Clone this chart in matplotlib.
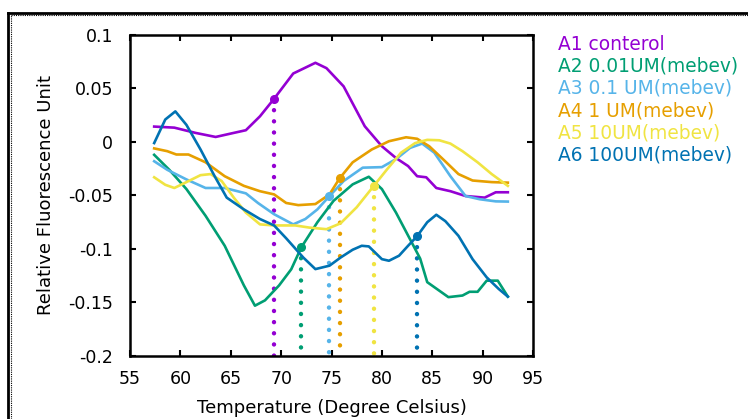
import matplotlib
matplotlib.use("Agg")
import matplotlib.pyplot as plt
from matplotlib.lines import Line2D

# temperature / fluorescence readings per well
a1_t = [57.4, 59.4, 61.5, 63.5, 65.3, 66.5, 67.9, 69.3, 71.2, 73.4, 74.5, 76.2, 78.3,
        80.0, 81.4, 82.6, 83.5, 84.4, 85.4, 86.8, 88.3, 90.2, 91.3, 92.5]
a1_y = [0.0144, 0.0134, 0.0085, 0.0047, 0.0085, 0.011, 0.024, 0.0404, 0.064, 0.074,
        0.069, 0.052, 0.0147, -0.004, -0.015, -0.0225, -0.032, -0.033, -0.043, -0.046,
        -0.0505, -0.052, -0.047, -0.047]

a2_t = [57.4, 58.9, 60.6, 62.5, 64.4, 66.3, 67.4, 68.4, 69.8, 71.0, 72.0, 73.6, 75.2,
        77.1, 78.7, 80.0, 81.4, 82.8, 83.8, 84.5, 85.4, 86.6, 88.0, 88.7, 89.5, 90.4,
        91.5, 92.5]
a2_y = [-0.012, -0.026, -0.044, -0.069, -0.097, -0.134, -0.153, -0.148, -0.134, -0.119,
        -0.0985, -0.075, -0.055, -0.0396, -0.0325, -0.044, -0.066, -0.091, -0.109,
        -0.131, -0.137, -0.145, -0.1435, -0.140, -0.140, -0.1296, -0.1296, -0.1445]

a3_t = [57.4, 58.7, 60.6, 62.5, 64.4, 66.5, 67.7, 69.3, 71.2, 72.4, 73.6, 74.8, 76.2,
        78.1, 80.0, 81.4, 82.8, 84.0, 85.2, 86.8, 88.3, 89.7, 91.3, 92.5]
a3_y = [-0.018, -0.026, -0.035, -0.043, -0.043, -0.048, -0.057, -0.0675, -0.077, -0.072,
        -0.063, -0.0505, -0.0365, -0.024, -0.0235, -0.016, -0.0055, -0.0015, -0.010,
        -0.032, -0.0505, -0.0535, -0.0555, -0.0557]

a4_t = [57.4, 58.7, 59.6, 60.8, 62.5, 64.4, 66.3, 67.9, 69.3, 70.5, 71.7, 73.4, 74.8,
        75.8, 77.1, 79.0, 80.7, 82.4, 83.5, 84.7, 86.1, 87.6, 89.0, 90.9, 92.5]
a4_y = [-0.006, -0.0086, -0.0117, -0.0117, -0.019, -0.032, -0.041, -0.046, -0.049,
        -0.057, -0.059, -0.058, -0.049, -0.034, -0.019, -0.007, 0.0007, 0.0044, 0.003,
        -0.004, -0.0164, -0.030, -0.036, -0.0375, -0.038]

a5_t = [57.4, 58.5, 59.4, 60.6, 62.0, 63.0, 64.1, 65.3, 66.5, 67.9, 69.3, 71.4, 72.8,
        74.5, 75.9, 77.5, 79.2, 80.5, 81.9, 83.3, 84.5, 85.7, 86.8, 88.0, 89.5, 90.9, 92.5]
a5_y = [-0.033, -0.040, -0.043, -0.0375, -0.031, -0.030, -0.0365, -0.052, -0.066,
        -0.077, -0.078, -0.078, -0.080, -0.0815, -0.076, -0.061, -0.041, -0.0257,
        -0.010, -0.001, 0.002, 0.0016, -0.0015, -0.0086, -0.019, -0.030, -0.041]

a6_t = [57.4, 58.5, 59.5, 60.6, 62.0, 63.4, 64.6, 66.3, 67.9, 69.3, 70.5, 72.2, 73.4,
        74.8, 75.9, 77.1, 78.0, 78.7, 80.0, 80.7, 81.7, 82.6, 83.5, 84.5, 85.4, 86.3,
        87.6, 89.0, 90.4, 91.6, 92.5]
a6_y = [-0.001, 0.021, 0.0286, 0.016, -0.007, -0.032, -0.052, -0.063, -0.072, -0.078,
        -0.090, -0.108, -0.1188, -0.1156, -0.108, -0.1007, -0.097, -0.0976, -0.1095,
        -0.111, -0.1063, -0.097, -0.088, -0.075, -0.068, -0.074, -0.0877, -0.1095,
        -0.1265, -0.1374, -0.1445]

labels = ["A1 conterol", "A2 0.01UM(mebev)", "A3 0.1 UM(mebev)",
          "A4 1 UM(mebev)", "A5 10UM(mebev)", "A6 100UM(mebev)"]
colors = ["#9400d3", "#009e73", "#56b4e9", "#e69f00", "#f0e442", "#0072b2"]

# melting points (marked with a dot and a dotted drop line)
tm_t = [69.3, 72.0, 74.8, 75.8, 79.2, 83.5]
tm_y = [0.0404, -0.0985, -0.0505, -0.034, -0.041, -0.088]

series = [(a1_t, a1_y), (a2_t, a2_y), (a3_t, a3_y),
          (a4_t, a4_y), (a5_t, a5_y), (a6_t, a6_y)]

plt.rcParams["font.family"] = "DejaVu Sans"

fig = plt.figure(figsize=(7.48, 4.19), dpi=100)
ax = fig.add_axes([0.1738, 0.1504, 0.5388, 0.7661])

y_min = -0.2
for (t, y), c, xm, ym in zip(series, colors, tm_t, tm_y):
    ax.plot([xm, xm], [ym, y_min], color=c, linewidth=3.2,
            linestyle=(0, (0.01, 2.5)), dash_capstyle="round", zorder=2)
for (t, y), c, xm, ym in zip(series, colors, tm_t, tm_y):
    ax.plot(t, y, color=c, linewidth=1.9, zorder=3)
    ax.plot([xm], [ym], "o", color=c, markersize=5.5, zorder=4)

ax.set_xlim(55, 95)
ax.set_ylim(-0.2, 0.1)
ax.set_xticks(range(55, 96, 5))
ax.set_yticks([-0.2, -0.15, -0.1, -0.05, 0, 0.05, 0.1])
ax.set_yticklabels(["-0.2", "-0.15", "-0.1", "-0.05", "0", "0.05", "0.1"])
ax.tick_params(direction="in", length=4, width=1.5, top=True, right=True,
               labelsize=12.5, colors="black")
ax.tick_params(axis="y", pad=12)
ax.tick_params(axis="x", pad=10)
for spine in ax.spines.values():
    spine.set_linewidth(1.8)

ax.set_xlabel("Temperature (Degree Celsius)", fontsize=13, labelpad=8)
ax.set_ylabel("Relative Fluorescence Unit", fontsize=13, labelpad=10)

# legend drawn as coloured text, like the gnuplot key
for i, (lab, c) in enumerate(zip(labels, colors)):
    fig.text(558 / 748, 1 - (44 + 22.2 * i) / 419, lab, color=c, fontsize=13.4,
             ha="left", va="center")

# page frame: solid outer edge and dotted inner edge
fig.add_artist(Line2D([8 / 748, 1], [1 - 13 / 419, 1 - 13 / 419], color="black",
                      linewidth=2, transform=fig.transFigure))
fig.add_artist(Line2D([8 / 748, 8 / 748], [0, 1 - 13 / 419], color="black",
                      linewidth=2, transform=fig.transFigure))
fig.add_artist(Line2D([11 / 748, 1], [1 - 15.5 / 419, 1 - 15.5 / 419], color="black",
                      linewidth=0.8, linestyle=(0, (1, 1)), transform=fig.transFigure))
fig.add_artist(Line2D([11 / 748, 11 / 748], [0, 1 - 15.5 / 419], color="black",
                      linewidth=0.8, linestyle=(0, (1, 1)), transform=fig.transFigure))

fig.savefig("out.png", dpi=100)
